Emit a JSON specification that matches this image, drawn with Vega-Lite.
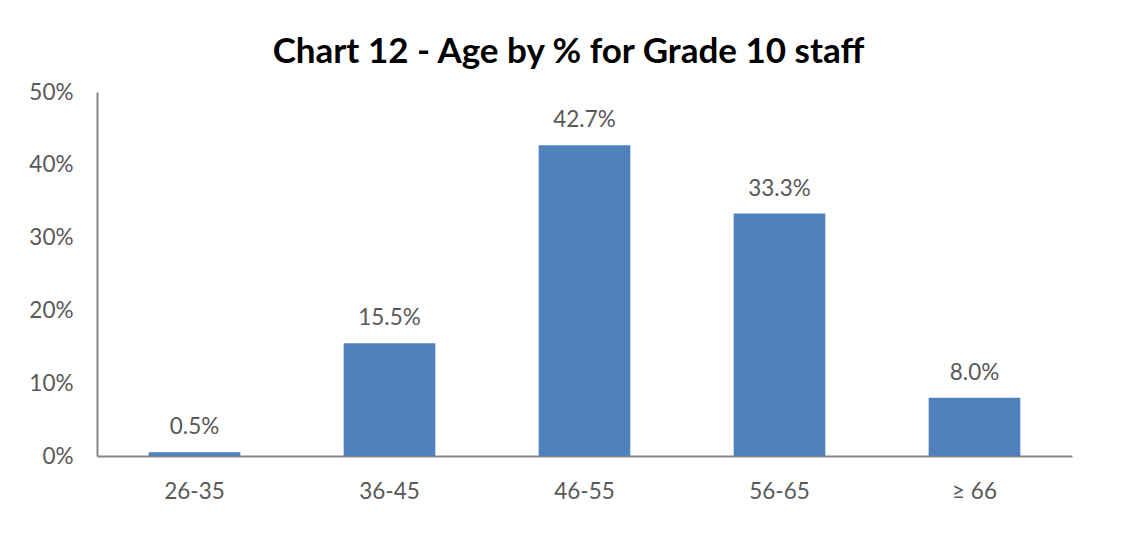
{
  "$schema": "https://vega.github.io/schema/vega-lite/v6.json",
  "autosize": "none",
  "width": 975,
  "height": 364,
  "padding": {"left": 97, "top": 92, "right": 49, "bottom": 88},
  "background": "white",
  "title": {
    "text": "Chart 12 - Age by % for Grade 10 staff",
    "font": "Lato",
    "fontSize": 35,
    "fontWeight": "bold",
    "color": "#000000",
    "anchor": "middle",
    "dx": -16,
    "offset": 11
  },
  "data": {
    "values": [
      {"age": "26-35", "pct": 0.005},
      {"age": "36-45", "pct": 0.155},
      {"age": "46-55", "pct": 0.427},
      {"age": "56-65", "pct": 0.333},
      {"age": "≥ 66", "pct": 0.080}
    ]
  },
  "encoding": {
    "x": {
      "field": "age",
      "type": "nominal",
      "sort": null,
      "scale": {"paddingInner": 0.53, "paddingOuter": 0.265},
      "axis": {
        "title": null,
        "labelAngle": 0,
        "ticks": false,
        "labelPadding": 24,
        "labelFont": "Lato",
        "labelFontSize": 22.5,
        "labelColor": "#595959",
        "domainColor": "#868686",
        "domainWidth": 2
      }
    },
    "y": {
      "field": "pct",
      "type": "quantitative",
      "scale": {"domain": [0, 0.5]},
      "axis": {
        "title": null,
        "format": ".0%",
        "values": [0, 0.1, 0.2, 0.3, 0.4, 0.5],
        "grid": false,
        "ticks": false,
        "labelPadding": 24,
        "labelFont": "Lato",
        "labelFontSize": 22.5,
        "labelColor": "#595959",
        "domainColor": "#868686",
        "domainWidth": 2
      }
    }
  },
  "layer": [
    {"mark": {"type": "bar", "color": "#4F81BD"}},
    {
      "mark": {"type": "text", "baseline": "bottom", "dy": -13, "font": "Lato", "fontSize": 22.5, "color": "#595959"},
      "encoding": {"text": {"field": "pct", "type": "quantitative", "format": ".1%"}}
    }
  ],
  "config": {"view": {"stroke": null}}
}
